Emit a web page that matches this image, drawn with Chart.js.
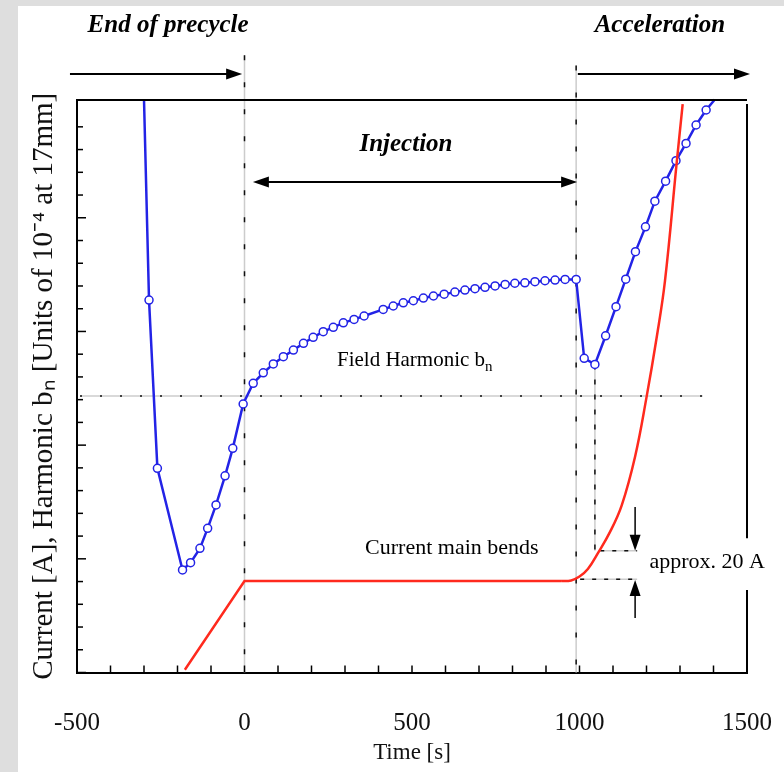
<!DOCTYPE html>
<html>
<head>
<meta charset="utf-8">
<script src="https://cdn.jsdelivr.net/npm/chart.js@4.4.1/dist/chart.umd.min.js"></script>
<style>
    html, body { margin: 0; padding: 0; }
    body { width: 784px; height: 772px; background: #dedede; position: relative; overflow: hidden; }
    #paper { position: absolute; left: 18px; top: 6px; right: 0; bottom: 0; background: #fff; }
    #myChart { position: absolute; left: 0; top: 0; }
</style>
</head>
<body>
<div id="paper"></div>
<canvas id="myChart" width="784" height="772"></canvas>
<script>
// time axis [s]
var xMin = -500, xMax = 1500;
var xLabelValues = [-500, 0, 500, 1000, 1500];

// field harmonic b_n (blue, with circles)
var harmTime = [-300, -285, -260, -185, -161, -133, -110, -85, -58, -35, -4,
    26, 56, 86, 116, 146, 176, 205, 235, 265, 295, 327, 357, 414, 444, 474, 504,
    534, 564, 596, 628, 658, 688, 718, 748, 778, 807, 837, 867, 897, 927, 957, 990,
    1014, 1046, 1078, 1109, 1138, 1167, 1197, 1225, 1257, 1288, 1318, 1348, 1378, 1404];
var harmValue = [25.2, 16.38, 8.98, 4.51, 4.83, 5.46, 6.34, 7.37, 8.65, 9.86, 11.81,
    12.72, 13.18, 13.57, 13.89, 14.18, 14.48, 14.74, 14.99, 15.18, 15.38, 15.53, 15.68,
    15.97, 16.12, 16.26, 16.35, 16.47, 16.56, 16.64, 16.73, 16.82, 16.88, 16.94, 17.0,
    17.07, 17.12, 17.14, 17.19, 17.23, 17.26, 17.29, 17.29,
    13.82, 13.55, 14.81, 16.09, 17.30, 18.51, 19.60, 20.73, 21.61, 22.51, 23.27, 24.08, 24.74, 25.2];

// current main bends (red): ramp + plateau, then acceleration
var rampTime = [-178, 0, 945];
var rampCurrent = [0.12, 4.02, 4.02];
var accTime = [945, 975, 1000, 1025, 1055, 1090, 1126, 1166, 1200, 1230, 1255, 1290, 1308];
var accCurrent = [4.02, 4.05, 4.22, 4.55, 5.25, 6.15, 7.35, 9.5, 12.1, 14.7, 17.2, 22.4, 25.0];

var serif = "'Liberation Serif', 'Times New Roman', serif";
var blue = '#2323e6';
var red = '#ff2a1e';

function pts(xs, ys) {
    var out = [];
    for (var i = 0; i < xs.length; i++) out.push({x: xs[i], y: ys[i]});
    return out;
}

var harmRadius = harmTime.map(function(t, i) {
    return (i === 0 || i === harmTime.length - 1) ? 0 : 4;
});

function head(ctx, x, y, ang) {
    ctx.save();
    ctx.translate(x, y);
    ctx.rotate(ang);
    ctx.beginPath();
    ctx.moveTo(0, 0);
    ctx.lineTo(-16, -5.5);
    ctx.lineTo(-16, 5.5);
    ctx.closePath();
    ctx.fill();
    ctx.restore();
}

function seg(ctx, x1, y1, x2, y2) {
    ctx.beginPath();
    ctx.moveTo(x1, y1);
    ctx.lineTo(x2, y2);
    ctx.stroke();
}

// grey line with black dashes on top
function guide(ctx, x1, y1, x2, y2, dash) {
    ctx.save();
    ctx.strokeStyle = '#cccccc';
    ctx.lineWidth = 1.5;
    seg(ctx, x1, y1, x2, y2);
    ctx.strokeStyle = '#111';
    ctx.setLineDash(dash);
    seg(ctx, x1, y1, x2, y2);
    ctx.restore();
}

var decor = {
    id: 'decor',
    beforeDatasetsDraw: function(chart) {
        var ctx = chart.ctx, X = chart.scales.x, Y = chart.scales.y;
        var px = function(t) { return X.getPixelForValue(t); };
        var py = function(v) { return Y.getPixelForValue(v); };
        guide(ctx, px(0), py(27.15), px(0), py(0), [5, 22]);
        guide(ctx, px(990), py(26.7), px(990), py(0), [5, 22]);
        guide(ctx, px(-491), py(12.16), px(1368), py(12.16), [2, 18]);
        guide(ctx, px(1046), py(13.55), px(1046), py(5.36), [5, 10]);
        guide(ctx, px(1062), py(5.36), px(1172), py(5.36), [4, 8]);
        guide(ctx, px(1002), py(4.1), px(1172), py(4.1), [4, 8]);
    },
    afterDatasetsDraw: function(chart) {
        var ctx = chart.ctx, X = chart.scales.x, Y = chart.scales.y;
        var px = function(t) { return X.getPixelForValue(t); };
        var py = function(v) { return Y.getPixelForValue(v); };
        var a = chart.chartArea;
        ctx.save();
        ctx.strokeStyle = '#000';
        ctx.fillStyle = '#000';
        ctx.lineWidth = 2;

        // frame: top line and right axis (with gap for the label)
        seg(ctx, px(-497), py(25.18), px(1500), py(25.18));
        seg(ctx, px(1500), py(25.0), px(1500), py(5.91));
        seg(ctx, px(1500), py(3.63), px(1500), py(0));

        // inward ticks
        ctx.lineWidth = 1.5;
        Y.ticks.forEach(function(tk) {
            var len = tk.value % 5 === 0 ? 9 : 6;
            seg(ctx, a.left, py(tk.value), a.left + len, py(tk.value));
        });
        X.ticks.forEach(function(tk) {
            seg(ctx, px(tk.value), a.bottom, px(tk.value), a.bottom - 7);
        });

        // phase arrows
        ctx.lineWidth = 2;
        seg(ctx, px(-521), py(26.32), px(-7) - 14, py(26.32));
        head(ctx, px(-7), py(26.32), 0);
        seg(ctx, px(995), py(26.32), px(1509) - 14, py(26.32));
        head(ctx, px(1509), py(26.32), 0);
        seg(ctx, px(25) + 14, py(21.57), px(993) - 14, py(21.57));
        head(ctx, px(993), py(21.57), 0);
        head(ctx, px(25), py(21.57), Math.PI);

        // approx. 20 A arrows
        ctx.lineWidth = 1.5;
        seg(ctx, px(1166), py(7.28), px(1166), py(5.36) - 12);
        head(ctx, px(1166), py(5.36), Math.PI / 2);
        seg(ctx, px(1166), py(2.4), px(1166), py(4.07) + 12);
        head(ctx, px(1166), py(4.07), -Math.PI / 2);

        // texts
        ctx.textBaseline = 'middle';
        ctx.textAlign = 'center';
        ctx.font = 'bold italic 25px ' + serif;
        ctx.fillText('End of precycle', px(-228), py(28.47));
        ctx.fillText('Acceleration', px(1240), py(28.47));
        ctx.fillText('Injection', px(482), py(23.2));

        ctx.font = '22px ' + serif;
        ctx.fillText('Current main bends', px(619), py(5.47));
        ctx.fillText('approx. 20 A', px(1381), py(4.86));

        ctx.textAlign = 'left';
        ctx.font = '21px ' + serif;
        var fx = px(276), fy = py(13.74);
        ctx.fillText('Field Harmonic b', fx, fy);
        var w = ctx.measureText('Field Harmonic b').width;
        ctx.font = '15px ' + serif;
        ctx.fillText('n', fx + w, fy + 7);
        ctx.restore();
    }
};

var ctx = document.getElementById('myChart');
var chart = new Chart(ctx, {
    type: 'line',
    data: {
        datasets: [{
            data: pts(rampTime, rampCurrent),
            borderColor: red,
            borderWidth: 2.5,
            pointRadius: 0,
            tension: 0,
            clip: 5
        }, {
            data: pts(accTime, accCurrent),
            borderColor: red,
            borderWidth: 2.5,
            pointRadius: 0,
            tension: 0.4,
            clip: 5
        }, {
            data: pts(harmTime, harmValue),
            borderColor: blue,
            borderWidth: 2.5,
            pointRadius: harmRadius,
            pointBorderWidth: 1.5,
            pointBorderColor: blue,
            pointBackgroundColor: '#fff',
            tension: 0,
            clip: 5
        }]
    },
    options: {
        responsive: false,
        animation: false,
        layout: { padding: { top: 100, right: 37, bottom: 0, left: 0 } },
        plugins: {
            legend: { display: false },
            tooltip: { enabled: false }
        },
        scales: {
            x: {
                type: 'linear',
                min: xMin,
                max: xMax,
                grid: { display: false },
                border: { display: true, color: '#000', width: 2 },
                ticks: {
                    stepSize: 100,
                    autoSkip: false,
                    maxRotation: 0,
                    padding: 28,
                    color: '#111',
                    font: { family: serif, size: 25 },
                    callback: function(v) {
                        return xLabelValues.indexOf(v) >= 0 ? String(v) : '';
                    }
                },
                title: {
                    display: true,
                    text: 'Time [s]',
                    color: '#111',
                    font: { family: serif, size: 23 },
                    padding: { top: 0, bottom: 5 }
                },
                afterFit: function(s) {
                    s.height = 99.5;
                    s.paddingLeft = 0;
                    s.paddingRight = 0;
                }
            },
            y: {
                type: 'linear',
                min: 0,
                max: 25.18,
                grid: { display: false },
                border: { display: true, color: '#000', width: 2 },
                ticks: { display: false, stepSize: 1 },
                afterBuildTicks: function(s) {
                    s.ticks = s.ticks.filter(function(t) { return Number.isInteger(t.value); });
                },
                title: {
                    display: true,
                    text: 'Current [A], Harmonic b\u2099 [Units of 10\u207B\u2074 at 17mm]',
                    color: '#111',
                    font: { family: serif, size: 29 },
                    padding: { top: 27, bottom: 0 }
                },
                afterFit: function(s) {
                    s.width = 77;
                    s.paddingTop = 0;
                    s.paddingBottom = 0;
                }
            }
        }
    },
    plugins: [decor]
});
</script>
</body>
</html>
